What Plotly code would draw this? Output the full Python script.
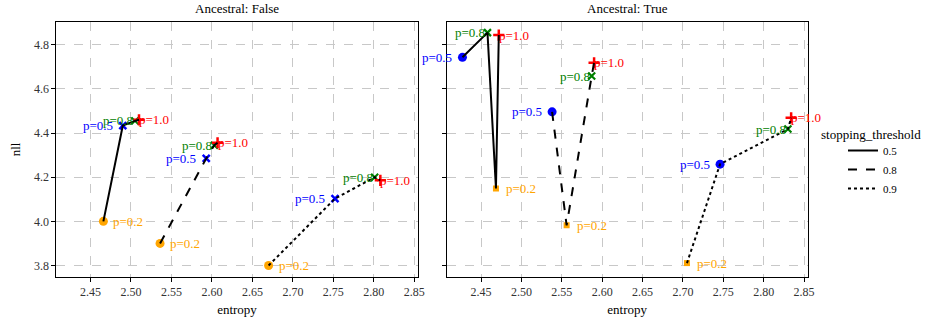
import plotly.graph_objects as go

# ---------------- data ----------------
p_values = [0.2, 0.5, 0.8, 1.0]
p_labels = ["p=0.2", "p=0.5", "p=0.8", "p=1.0"]
thresholds = ["0.5", "0.8", "0.9"]
panel_titles = ["Ancestral: False", "Ancestral: True"]

# Ancestral: False
false_entropy_05 = [2.466, 2.490, 2.505, 2.510]
false_nll_05 = [4.000, 4.434, 4.455, 4.460]
false_entropy_08 = [2.536, 2.593, 2.603, 2.607]
false_nll_08 = [3.900, 4.285, 4.345, 4.356]
false_entropy_09 = [2.670, 2.752, 2.801, 2.808]
false_nll_09 = [3.800, 4.103, 4.200, 4.186]

# Ancestral: True
true_entropy_05 = [2.4685, 2.427, 2.458, 2.472]
true_nll_05 = [4.149, 4.743, 4.855, 4.844]
true_entropy_08 = [2.556, 2.538, 2.587, 2.590]
true_nll_08 = [3.982, 4.496, 4.658, 4.718]
true_entropy_09 = [2.705, 2.746, 2.830, 2.834]
true_nll_09 = [3.811, 4.259, 4.418, 4.469]

xtick_vals = [2.45, 2.50, 2.55, 2.60, 2.65, 2.70, 2.75, 2.80, 2.85]
ytick_vals = [3.8, 4.0, 4.2, 4.4, 4.6, 4.8]

# ---------------- styles ----------------
p_colors = ["#FFA500", "#0000FF", "#008000", "#FF0000"]
dashes = {"0.5": "solid", "0.8": "dash", "0.9": "dot"}
marker_false = [("circle", 9, 0), ("x-thin", 7, 2.5), ("x-thin", 7, 2), ("cross-thin", 8, 2.5)]
marker_true = [("square", 6, 0), ("circle", 9, 0), ("x-thin", 7, 2.2), ("cross-thin", 8, 2.5)]
FONT = "Liberation Serif"

panels = [
    ("x", "y", marker_false, {
        "0.5": (false_entropy_05, false_nll_05),
        "0.8": (false_entropy_08, false_nll_08),
        "0.9": (false_entropy_09, false_nll_09)}),
    ("x2", "y2", marker_true, {
        "0.5": (true_entropy_05, true_nll_05),
        "0.8": (true_entropy_08, true_nll_08),
        "0.9": (true_entropy_09, true_nll_09)}),
]

fig = go.Figure()
annotations = []

for pi, (xa, ya, markers, series) in enumerate(panels):
    for t in thresholds:
        ex, ny = series[t]
        # markers
        for k in range(len(p_values)):
            sym, size, lw = markers[k]
            fig.add_trace(go.Scatter(
                x=[ex[k]], y=[ny[k]], mode="markers", xaxis=xa, yaxis=ya,
                marker=dict(symbol=sym, size=size, color=p_colors[k],
                            line=dict(width=lw, color=p_colors[k])),
                showlegend=False, hoverinfo="skip"))
        # line sorted by entropy
        order = sorted(range(len(ex)), key=lambda i: ex[i])
        fig.add_trace(go.Scatter(
            x=[ex[i] for i in order], y=[ny[i] for i in order], mode="lines",
            xaxis=xa, yaxis=ya,
            line=dict(color="black", width=2, dash=dashes[t]),
            showlegend=False, hoverinfo="skip"))
        # labels
        for k in range(len(p_values)):
            if k == 0:
                xanchor, xshift = "left", 8
            elif k == 1:
                xanchor, xshift = "right", -8
            elif k == 2:
                xanchor, xshift = "right", 0
            else:
                xanchor, xshift = "left", -2
            annotations.append(dict(
                x=ex[k], y=ny[k], xref=xa, yref=ya, text=p_labels[k],
                showarrow=False, xanchor=xanchor, yanchor="middle",
                xshift=xshift, yshift=0,
                font=dict(family=FONT, size=13, color=p_colors[k])))

# legend entries
for t in thresholds:
    fig.add_trace(go.Scatter(
        x=[None], y=[None], mode="lines", name=t,
        line=dict(color="black", width=2, dash=dashes[t]),
        showlegend=True, xaxis="x2", yaxis="y2"))

for i, title in enumerate(panel_titles):
    dom = [56 / 927, 418 / 927] if i == 0 else [446.7 / 927, 807.7 / 927]
    annotations.append(dict(
        x=(dom[0] + dom[1]) / 2, y=1, xref="paper", yref="paper",
        yshift=4, yanchor="bottom", xanchor="center", showarrow=False,
        text=title, font=dict(family=FONT, size=13, color="black")))

annotations.append(dict(
    x=871 / 927, y=1 - (134 - 22) / 255, xref="paper", yref="paper",
    xanchor="center", yanchor="middle", showarrow=False,
    text="stopping_threshold", font=dict(family=FONT, size=13, color="black")))

axis_common = dict(
    showline=True, mirror=True, linecolor="black", linewidth=1.2,
    ticks="outside", ticklen=3.5, tickwidth=1, tickcolor="black",
    showgrid=True, gridcolor="#c8c8c8", gridwidth=1, griddash="dash",
    zeroline=False, automargin=False,
    tickfont=dict(family=FONT, size=12, color="#333333"),
)

xr = [2.4075, 2.8545]
yr = [3.748, 4.903]

fig.update_layout(
    width=927, height=326,
    margin=dict(l=0, r=0, t=22, b=49, autoexpand=False),
    plot_bgcolor="white", paper_bgcolor="white",
    font=dict(family=FONT, color="black"),
    xaxis=dict(domain=[56 / 927, 418 / 927], range=xr, tickvals=xtick_vals,
               ticktext=[f"{v:.2f}" for v in xtick_vals],
               title=dict(text="entropy", font=dict(family=FONT, size=13), standoff=6),
               anchor="y", **axis_common),
    yaxis=dict(domain=[0, 1], range=yr, tickvals=ytick_vals,
               ticktext=[f"{v:.1f}" for v in ytick_vals],
               title=dict(text="nll", font=dict(family=FONT, size=13), standoff=10),
               anchor="x", **axis_common),
    xaxis2=dict(domain=[446.7 / 927, 807.7 / 927], range=xr, tickvals=xtick_vals,
                ticktext=[f"{v:.2f}" for v in xtick_vals],
                title=dict(text="entropy", font=dict(family=FONT, size=13), standoff=6),
                anchor="y2", **axis_common),
    yaxis2=dict(domain=[0, 1], range=yr, tickvals=ytick_vals, showticklabels=False,
                anchor="x2", **axis_common),
    legend=dict(x=843 / 927, y=1 - (136 - 22) / 255, xanchor="left", yanchor="top",
                font=dict(family=FONT, size=11, color="black"),
                bgcolor="rgba(0,0,0,0)", tracegroupgap=0, itemwidth=30),
    annotations=annotations,
    showlegend=True,
)

fig.write_html("out.html", config={"displayModeBar": False},
               post_script="document.body.style.margin='0';")
